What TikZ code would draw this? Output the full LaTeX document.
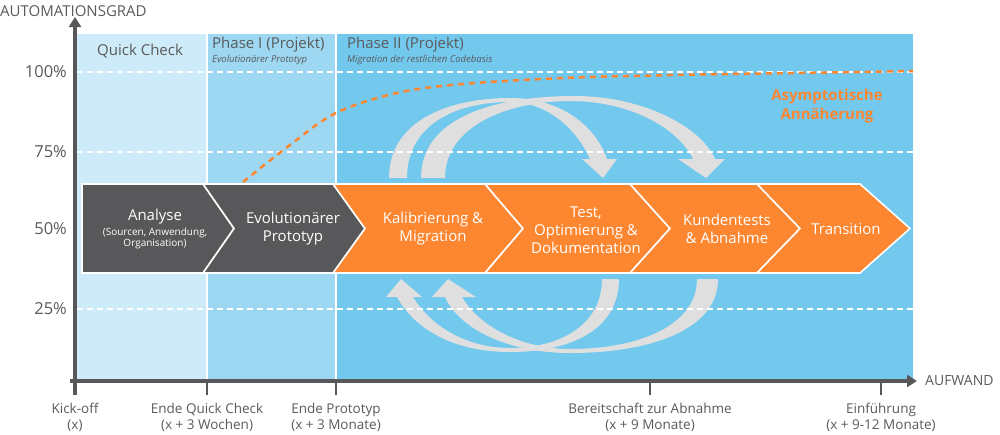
\documentclass[tikz,border=0pt]{standalone}
\usepackage{fontspec}
\setmainfont{Open Sans}
\usetikzlibrary{arrows.meta}
\definecolor{qcblue}{HTML}{CDEBF8}
\definecolor{p1blue}{HTML}{9DD7F2}
\definecolor{p2blue}{HTML}{73C8EE}
\definecolor{darkg}{HTML}{58585A}
\definecolor{orng}{HTML}{FD8631}
\definecolor{arcg}{HTML}{DFDFDF}
\definecolor{txtg}{HTML}{5A5A5A}
\tikzset{
  chev/.style={draw=white, line width=1.6pt, line join=miter},
  chevtxt/.style={text=white, align=center, inner sep=0pt, font=\fontsize{15}{18}\selectfont},
  gridline/.style={white, line width=2.5pt, dash pattern=on 6pt off 4pt},
  axisline/.style={darkg, line width=4pt},
  tickline/.style={darkg, line width=2.5pt},
  ticklbl/.style={text=txtg, align=center, inner sep=0pt, font=\fontsize{13.5}{16}\selectfont},
  ylbl/.style={text=txtg, anchor=east, inner sep=0pt, font=\fontsize{16.5}{19}\selectfont},
  phasettl/.style={text=txtg, anchor=west, inner sep=0pt, font=\fontsize{15}{18}\selectfont},
  phasesub/.style={text=txtg, anchor=west, inner sep=0pt, font=\fontsize{9.5}{11}\selectfont\itshape},
  bigarc/.style={fill=arcg, draw=none},
}
\begin{document}
\begin{tikzpicture}[x=1pt,y=-1pt]
\useasboundingbox (0,0) rectangle (1000,434);
% backgrounds
\fill[qcblue] (77,34) rectangle (207,380);
\fill[p1blue] (207,34) rectangle (336,380);
\fill[p2blue] (336,34) rectangle (913,380);
\draw[white, line width=1.5pt] (207,34) -- (207,380);
\draw[white, line width=1.5pt] (336,34) -- (336,380);
% phase titles
\node[phasettl] (qc) at (97,51) {Quick Check};
\node[phasettl] (p1) at (212,45) {Phase I (Projekt)};
\node[phasesub] (p1s) at (212,60) {Evolutionärer Prototyp};
\node[phasettl] (p2) at (347,45) {Phase II (Projekt)};
\node[phasesub] (p2s) at (347,60) {Migration der restlichen Codebasis};
% gray arcs (upper)
\fill[bigarc] (389,178) .. controls (389,120) and (450,98) .. (510,98)
  .. controls (560,98) and (595,125) .. (607,159) -- (617,159) -- (603,178) -- (582,159) -- (590,159)
  .. controls (575,126) and (545,102) .. (510,102)
  .. controls (455,102) and (407,125) .. (407,178) -- cycle;
\fill[bigarc] (421,178) .. controls (421,115) and (500,96) .. (575,96)
  .. controls (640,96) and (700,125) .. (715,159) -- (725,159) -- (706,178) -- (678,159) -- (693,159)
  .. controls (678,128) and (630,101) .. (570,101)
  .. controls (510,101) and (445,125) .. (445,178) -- cycle;
% gray arcs (lower)
\fill[bigarc] (619,279) .. controls (619,330) and (570,352) .. (510,352)
  .. controls (455,352) and (415,330) .. (397,297) -- (386,297) -- (401,279) -- (422,297) -- (413,297)
  .. controls (430,325) and (465,348) .. (510,348)
  .. controls (560,348) and (602,325) .. (602,279) -- cycle;
\fill[bigarc] (718,279) .. controls (718,330) and (650,353) .. (570,353)
  .. controls (510,353) and (460,330) .. (445,297) -- (432,297) -- (448,279) -- (476,297) -- (462,297)
  .. controls (478,325) and (520,349) .. (570,349)
  .. controls (640,349) and (697,325) .. (697,279) -- cycle;
% grid lines
\coordinate (g100a) at (77,72);  \coordinate (g100b) at (913,72);
\coordinate (g75a) at (77,152);  \coordinate (g75b) at (913,152);
\coordinate (g25a) at (77,309);  \coordinate (g25b) at (913,309);
\draw[gridline] (g100a) -- (g100b);
\draw[gridline] (g75a) -- (g75b);
\draw[gridline] (g25a) -- (g25b);
% orange asymptotic curve
\draw[orng, line width=2.5pt, dash pattern=on 6pt off 5pt]
  plot[smooth, tension=0.6] coordinates {(243,182) (290,145) (336,113) (397,93) (463,84) (563,78) (650,75.5) (730,74) (830,72.5) (913,71)};
\node[text=orng, align=center, inner sep=0pt, font=\fontsize{15}{19}\selectfont\bfseries] (asym) at (827,106) {Asymptotische\\Annäherung};
% chevrons
\fill[darkg, chev] (82,184) -- (203,184) -- (234,228.5) -- (203,273) -- (82,273) -- cycle;
\fill[darkg, chev] (203,184) -- (333,184) -- (365,228.5) -- (333,273) -- (203,273) -- (234,228.5) -- cycle;
\fill[orng, chev] (333,184) -- (485,184) -- (523,228.5) -- (485,273) -- (333,273) -- (365,228.5) -- cycle;
\fill[orng, chev] (485,184) -- (630,184) -- (670,228.5) -- (630,273) -- (485,273) -- (523,228.5) -- cycle;
\fill[orng, chev] (630,184) -- (757,184) -- (800,228.5) -- (757,273) -- (630,273) -- (670,228.5) -- cycle;
\fill[orng, chev] (757,184) -- (860,184) -- (910,228.5) -- (860,273) -- (757,273) -- (800,228.5) -- cycle;
\node[chevtxt] (c1) at (155,217) {Analyse};
\node[chevtxt, font=\fontsize{10}{11}\selectfont] (c1s) at (155,238) {(Sourcen, Anwendung,\\Organisation)};
\node[chevtxt] (c2) at (293,229) {Evolutionärer\\Prototyp};
\node[chevtxt] (c3) at (433,229) {Kalibrierung \&\\Migration};
\node[chevtxt] (c4) at (586,230) {Test,\\Optimierung \&\\Dokumentation};
\node[chevtxt] (c5) at (727,229) {Kundentests\\\& Abnahme};
\node[chevtxt] (c6) at (846,229) {Transition};
% axes
\coordinate (yb) at (75,395); \coordinate (yt) at (75,17);
\coordinate (xl) at (70,381); \coordinate (xr) at (917,381);
\draw[axisline, -{Triangle[width=12pt,length=10pt]}] (yb) -- (yt);
\draw[axisline, -{Triangle[width=12pt,length=10pt]}] (xl) -- (xr);
\foreach \x in {207,336,650,881} \draw[tickline] (\x,381) -- (\x,395);
\node[text=txtg, anchor=west, inner sep=0pt, font=\fontsize{15}{18}\selectfont] (ylab) at (0,11) {AUTOMATIONSGRAD};
\node[text=txtg, anchor=west, inner sep=0pt, font=\fontsize{14}{17}\selectfont] (xlab) at (925,381) {AUFWAND};
\node[ylbl] (y100) at (67,72) {100\%};
\node[ylbl] (y75) at (67,152) {75\%};
\node[ylbl] (y50) at (67,229) {50\%};
\node[ylbl] (y25) at (67,309) {25\%};
\node[ticklbl] (t1) at (75,417) {Kick-off\\(x)};
\node[ticklbl] (t2) at (207,417) {Ende Quick Check\\(x + 3 Wochen)};
\node[ticklbl] (t3) at (336,417) {Ende Prototyp\\(x + 3 Monate)};
\node[ticklbl] (t4) at (650,417) {Bereitschaft zur Abnahme\\(x + 9 Monate)};
\node[ticklbl] (t5) at (881,417) {Einführung\\(x + 9-12 Monate)};
\end{tikzpicture}
\end{document}
